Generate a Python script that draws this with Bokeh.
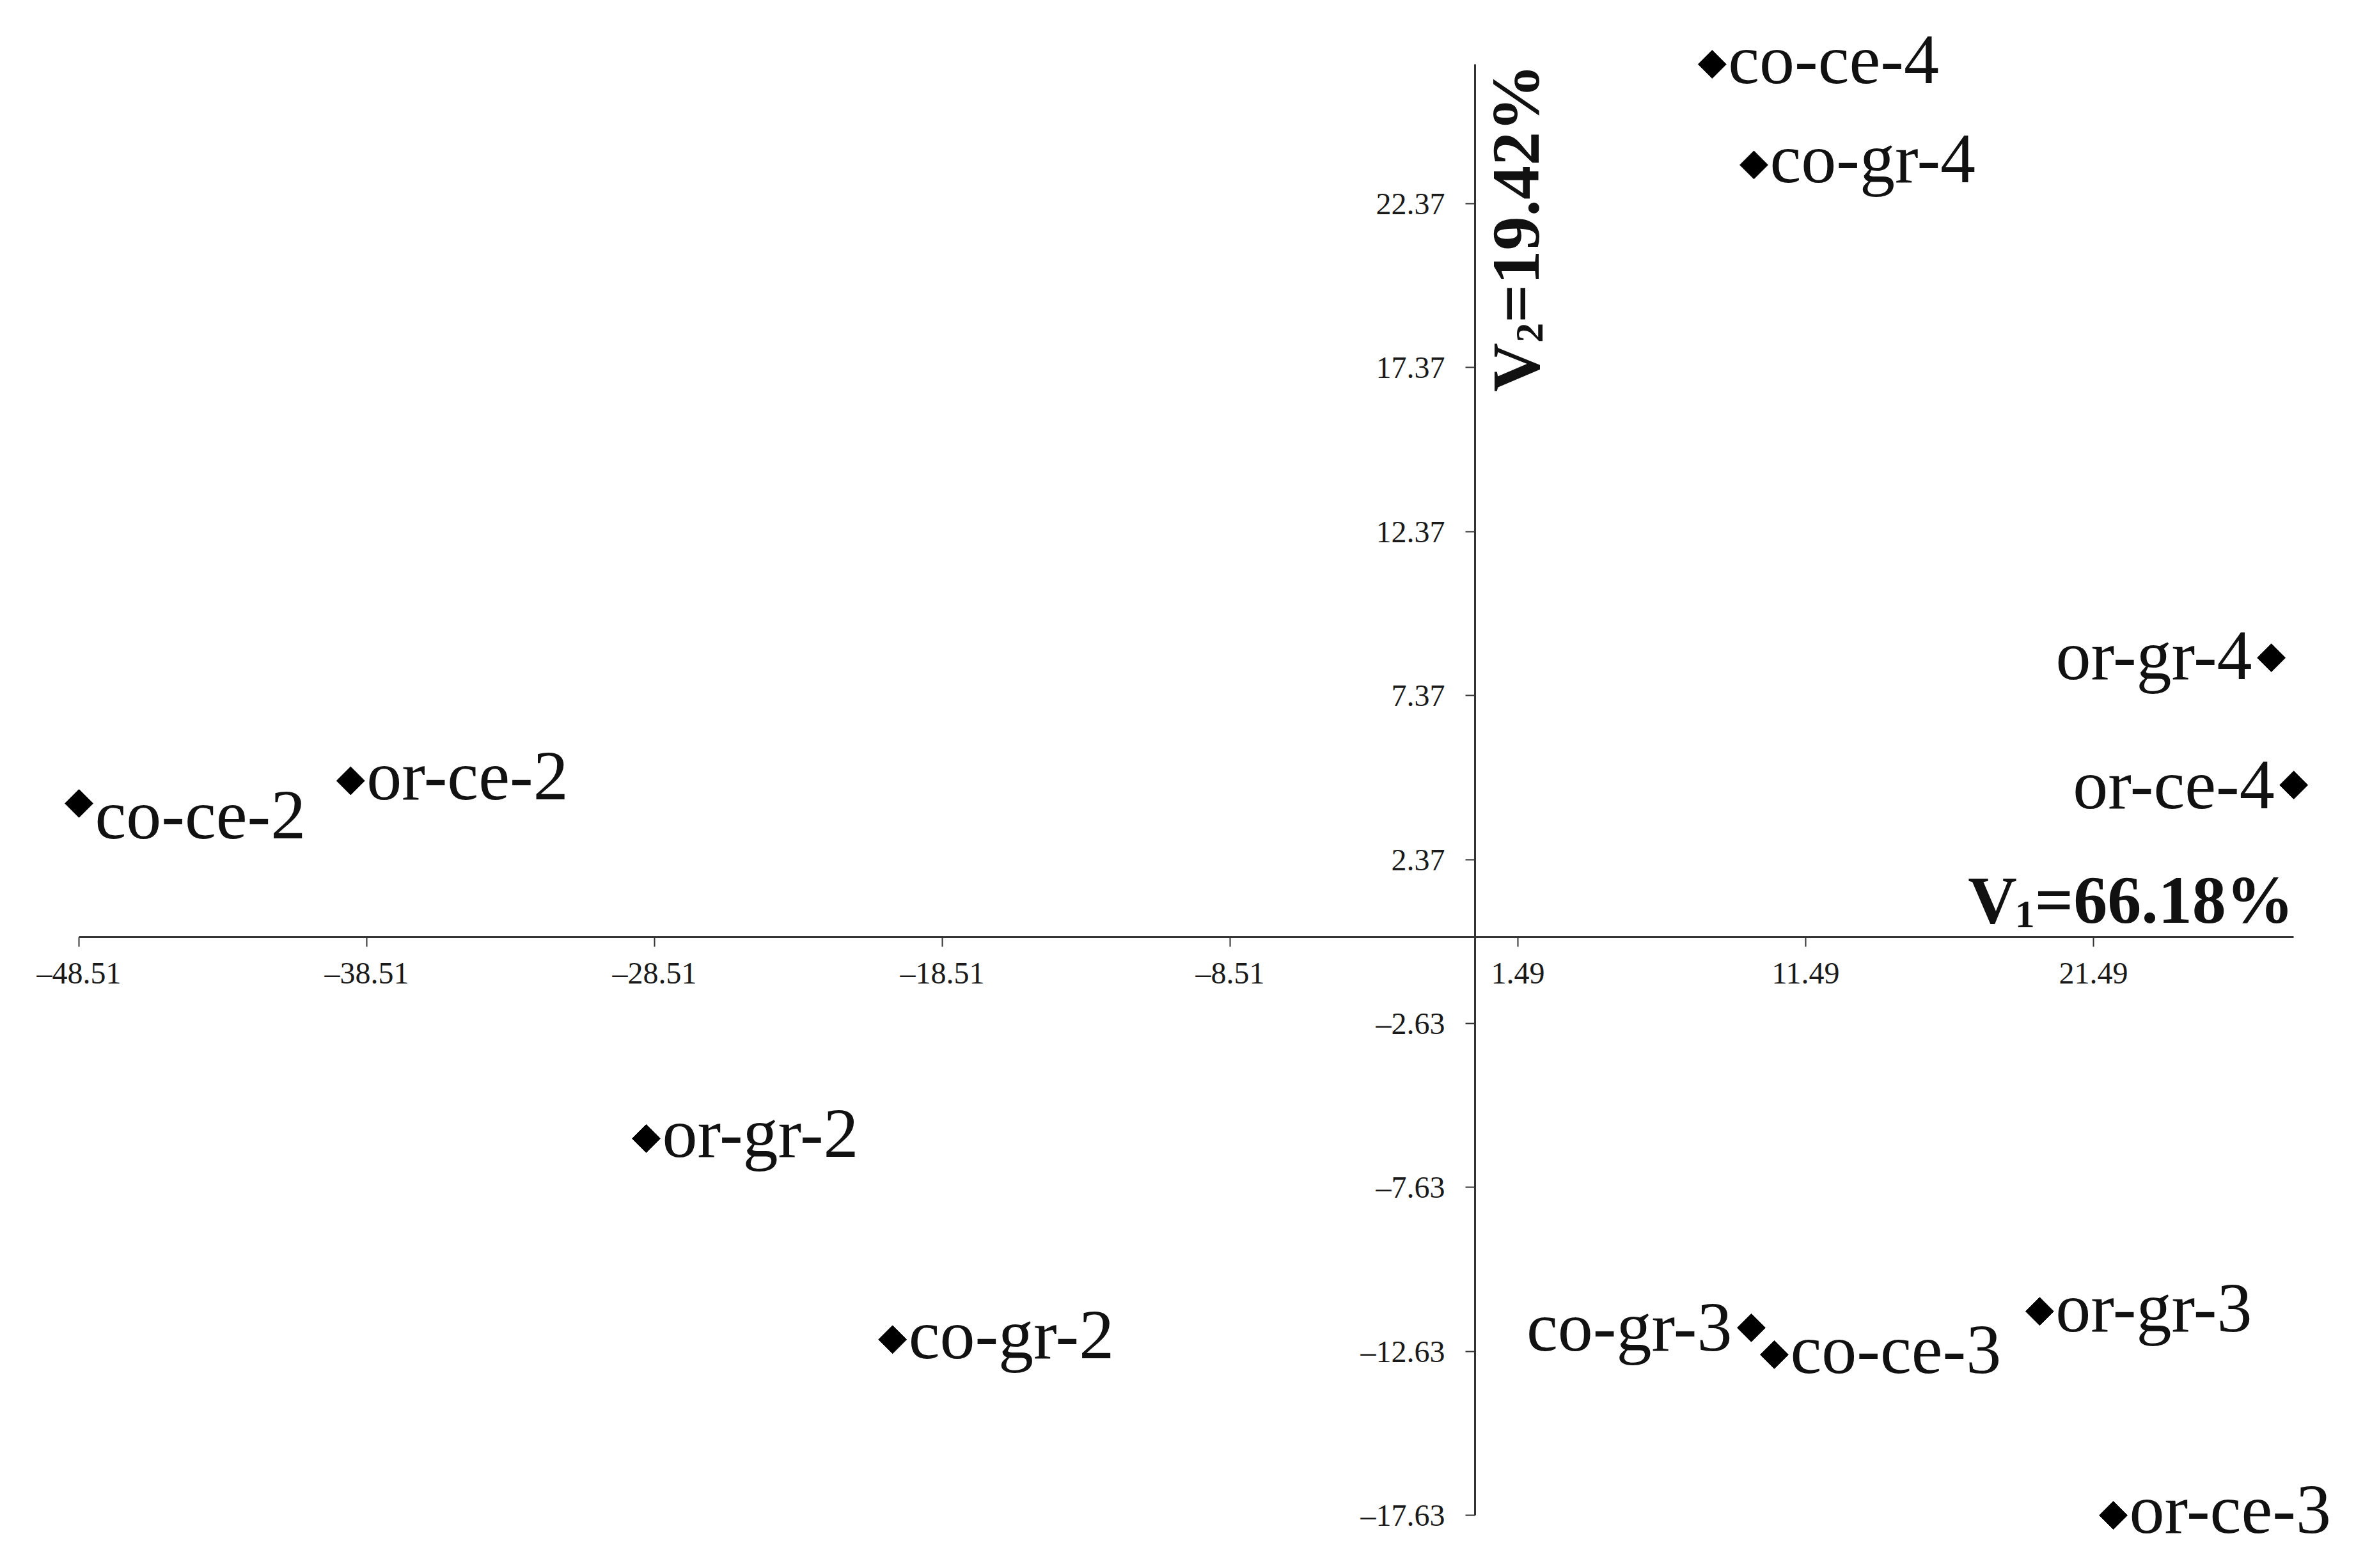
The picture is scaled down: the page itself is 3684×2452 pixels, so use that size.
import math
from bokeh.plotting import figure
from bokeh.models import (Range1d, FixedTicker, ColumnDataSource, CDSView, IndexFilter,
                          Label, CustomJSTickFormatter)
from bokeh.core.properties import value
from bokeh.embed import file_html
from bokeh.resources import INLINE

# ---------------- data ----------------
names = ["co-ce-4", "co-gr-4", "or-gr-4", "or-ce-4", "co-ce-2", "or-ce-2",
         "or-gr-2", "co-gr-2", "co-gr-3", "co-ce-3", "or-gr-3", "or-ce-3"]
v1 = [8.24, 9.69, 27.67, 28.45, -48.51, -39.07, -28.80, -20.24, 9.60, 10.40, 19.62, 22.18]
v2 = [26.62, 23.55, 8.52, 4.64, 4.08, 4.77, -6.14, -12.27, -11.91, -12.73, -11.41, -17.63]
x_ticks = [-48.51, -38.51, -28.51, -18.51, -8.51, 1.49, 11.49, 21.49]
y_ticks = [-17.63, -12.63, -7.63, -2.63, 2.37, 7.37, 12.37, 17.37, 22.37]
v1_pct = "=66.18%"
v2_pct = "=19.42%"

# ---------------- label placement (screen px) ----------------
left_side = ["or-gr-4", "or-ce-4", "co-gr-3"]
label_dy = [-8, -10, -4, -1, 18, -8, -8, -8, -1, -8, -6, -10]

W, H = 3668, 2436
xs_px, ys_px = 45.0, 51.28          # pixels per data unit
x0 = min(v1) - 123 / xs_px
x1 = x0 + W / xs_px
y1 = max(v2) + 100 / ys_px
y0 = y1 - H / ys_px

p = figure(width=W, height=H, x_range=Range1d(x0, x1), y_range=Range1d(y0, y1),
           output_backend="svg", toolbar_location=None,
           min_border_left=0, min_border_right=0, min_border_top=0, min_border_bottom=0)
p.outline_line_color = None
p.xgrid.visible = False
p.ygrid.visible = False
p.background_fill_color = "white"
p.border_fill_color = "white"

fmt = CustomJSTickFormatter(code="return tick.toFixed(2).replace('-', '\u2013');")
AX_COL = "#333333"
for ax, ticks, bnds in ((p.xaxis[0], x_ticks, (min(v1), max(v1))),
                        (p.yaxis[0], y_ticks, (min(v2), max(v2)))):
    ax.fixed_location = 0
    ax.bounds = bnds
    ax.ticker = FixedTicker(ticks=ticks)
    ax.formatter = fmt
    ax.axis_line_color = AX_COL
    ax.axis_line_width = 3
    ax.major_tick_line_color = AX_COL
    ax.major_tick_line_width = 2
    ax.major_tick_in = 0
    ax.major_tick_out = 15
    ax.minor_tick_line_color = None
    ax.major_label_text_font = "Liberation Serif"
    ax.major_label_text_font_size = "48px"
    ax.major_label_text_color = "#1a1a1a"
p.xaxis[0].major_label_standoff = 14
p.yaxis[0].major_label_standoff = 32

src = ColumnDataSource(dict(
    x=v1, y=v2, name=names,
    dx=[-30 if n in left_side else 25 for n in names],
    dy=label_dy,
))
p.scatter(x="x", y="y", source=src, marker="square", angle=math.pi / 4, size=31,
          fill_color="black", line_color="black")

right_idx = [i for i, n in enumerate(names) if n not in left_side]
left_idx = [i for i, n in enumerate(names) if n in left_side]
common = dict(x="x", y="y", text="name", source=src, x_offset="dx", y_offset="dy",
              text_font=value("Liberation Serif"), text_font_size="110px",
              text_color="#111111", text_baseline="alphabetic")
p.text(view=CDSView(filter=IndexFilter(right_idx)), text_align="left", **common)
p.text(view=CDSView(filter=IndexFilter(left_idx)), text_align="right", **common)

# ---------------- axis titles ----------------
tf = dict(text_font="Liberation Serif", text_font_style="bold", text_color="#111111",
          text_baseline="alphabetic")
# V1 (horizontal, right end of x axis)
ax_x, base_up = max(v1), 58
p.add_layout(Label(x=ax_x, y=0, y_offset=base_up, text=v1_pct, text_align="right",
                   text_font_size="106px", **tf))
p.add_layout(Label(x=ax_x, y=0, x_offset=-405, y_offset=base_up - 22, text="1",
                   text_align="right", text_font_size="62px", **tf))
p.add_layout(Label(x=ax_x, y=0, x_offset=-433, y_offset=base_up, text="V",
                   text_align="right", text_font_size="106px", **tf))
# V2 (rotated, along top of y axis)
t2x, t2y = 1.42, 16.63
p.add_layout(Label(x=t2x, y=t2y, angle=math.pi / 2, text="V", text_align="left",
                   text_font_size="106px", **tf))
p.add_layout(Label(x=t2x, y=t2y, angle=math.pi / 2, x_offset=22, y_offset=77, text="2",
                   text_align="left", text_font_size="62px", **tf))
p.add_layout(Label(x=t2x, y=t2y, angle=math.pi / 2, y_offset=108, text=v2_pct,
                   text_align="left", text_font_size="106px", **tf))

open("out.html", "w").write(file_html(p, INLINE))
